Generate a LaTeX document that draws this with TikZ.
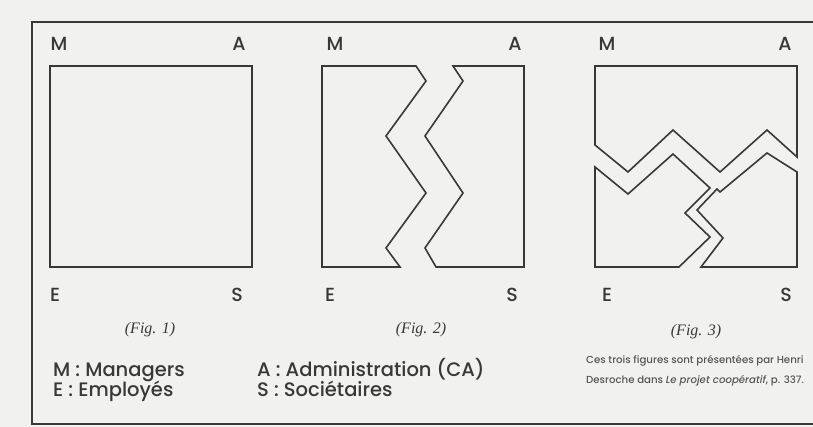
\documentclass[tikz,border=0pt]{standalone}
\usepackage{fontspec}
\setmainfont{Liberation Serif}
\IfFontExistsTF{Poppins Medium}{\newfontfamily\gothic{Poppins Medium}}{\newfontfamily\gothic{Poppins}}
\definecolor{ink}{HTML}{383838}
\definecolor{paper}{HTML}{F1F1EF}

\begin{document}
\begin{tikzpicture}[
  x=1pt, y=-1pt,
  piece/.style={draw=ink, line width=1.6pt, line join=miter},
  frameline/.style={draw=ink, line width=2pt},
  cornerlbl/.style={font=\gothic\fontsize{19}{19}\selectfont, text=ink, inner sep=0pt},
  figcap/.style={font=\itshape\fontsize{16}{16}\selectfont, text=ink, inner sep=0pt, anchor=base},
  legendtxt/.style={font=\gothic\fontsize{19.5}{19.5}\selectfont, text=ink, inner sep=0pt, anchor=base west},
  sourcenote/.style={font=\gothic\fontsize{10.2}{10.2}\selectfont, text=ink!85, inner sep=0pt, anchor=base west}
]
  \fill[paper] (0,0) rectangle (813,427);
  \useasboundingbox (0,0) rectangle (813,427);
  \draw[frameline] (813,22) -- (32,22) -- (32,424) -- (813,424);

  % Fig. 1
  \draw[piece] (50,66) rectangle (252,267);
  % Fig. 2
  \draw[piece] (322,66) -- (416,66) -- (426,81) -- (386,136) -- (426,193)
    -- (386,248) -- (400,267) -- (322,267) -- cycle;
  \draw[piece] (453,66) -- (524,66) -- (524,267) -- (436,267) -- (425,248)
    -- (463,193) -- (425,136) -- (463,81) -- cycle;
  % Fig. 3
  \draw[piece] (595,66) -- (797,66) -- (797,157) -- (767,130) -- (720,172)
    -- (673,130) -- (628,172) -- (595,145) -- cycle;
  \draw[piece] (595,167) -- (628,194) -- (673,154) -- (710,188) -- (685,213)
    -- (710,237) -- (679,267) -- (595,267) -- cycle;
  \draw[piece] (797,172) -- (767,153) -- (720,192) -- (717,189) -- (697,210)
    -- (723,238) -- (701,267) -- (797,267) -- cycle;

  % corner letters
  \foreach \n/\mx/\ax/\ex/\sx in {1/59/239/55/237, 2/335/515/330/512, 3/607/785/607/786} {
    \node[cornerlbl] (m\n) at (\mx,44) {M};
    \node[cornerlbl] (a\n) at (\ax,44) {A};
    \node[cornerlbl] (e\n) at (\ex,295) {E};
    \node[cornerlbl] (s\n) at (\sx,295) {S};
  }

  \node[figcap] (cap1) at (150,333) {(Fig. 1)};
  \node[figcap] (cap2) at (421,333) {(Fig. 2)};
  \node[figcap] (cap3) at (696,335) {(Fig. 3)};

  \node[legendtxt] (lm) at (53,376) {M : Managers};
  \node[legendtxt] (le) at (53,396) {E : Employés};
  \node[legendtxt] (la) at (257,376) {A : Administration (CA)};
  \node[legendtxt] (ls) at (257,396) {S : Sociétaires};

  \node[sourcenote] (src1) at (586,363) {Ces trois figures sont présentées par Henri};
  \node[sourcenote] (src2) at (586,383) {Desroche dans \textit{Le projet coopératif}, p. 337.};
\end{tikzpicture}
\end{document}
